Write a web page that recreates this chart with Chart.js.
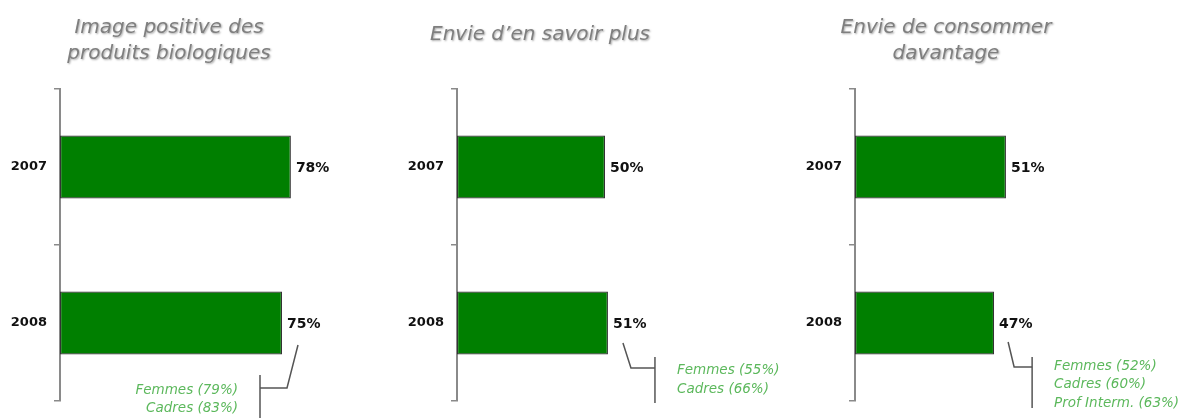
<!DOCTYPE html>
<html>
<head>
<meta charset="utf-8">
<script src="https://cdn.jsdelivr.net/npm/chart.js@4.4.0/dist/chart.umd.min.js"></script>
<style>
  html, body { margin: 0; padding: 0; background: #fff; }
  #wrap { position: relative; width: 1179px; height: 418px; }
  .panel { position: absolute; top: 0; width: 393px; height: 418px; }
</style>
</head>
<body>
<div id="wrap">
  <div class="panel" style="left:0"><canvas id="c1"></canvas></div>
  <div class="panel" style="left:393px"><canvas id="c2"></canvas></div>
  <div class="panel" style="left:786px"><canvas id="c3"></canvas></div>
</div>
<script>
// Data
const years = ['2007', '2008'];

const titleImage = ['Image positive des', 'produits biologiques'];
const titleSavoir = ['Envie d\u2019en savoir plus'];
const titleConsommer = ['Envie de consommer', 'davantage'];

const valuesImage = [78, 75];
const valuesSavoir = [50, 51];
const valuesConsommer = [51, 47];

const notesImage = ['Femmes (79%)', 'Cadres (83%)'];
const notesSavoir = ['Femmes (55%)', 'Cadres (66%)'];
const notesConsommer = ['Femmes (52%)', 'Cadres (60%)', 'Prof Interm. (63%)'];

// Styles
const BAR_GREEN = '#007f00';
const NOTE_GREEN = '#5cb85c';
const AXIS_GREY = '#8a8a8a';
const TITLE_GREY = '#7f7f7f';

// Per panel layout (local canvas coords). Callout offsets are relative to the 2008 bar end/center.
const panels = [
    {
        id: 'c1', title: titleImage, values: valuesImage, notes: notesImage,
        axisX: 60, titleX: 169, titleY: [28, 54],
        callout: { d1: [16, 22], d2: [5, 65], vx: -22, vy: [52, 97] },
        noteX: -44, noteY: [67, 85], noteAlign: 'right'
    },
    {
        id: 'c2', title: titleSavoir, values: valuesSavoir, notes: notesSavoir,
        axisX: 64, titleX: 147, titleY: [35],
        callout: { d1: [15, 20], d2: [23, 45], vx: 47, vy: [34, 80] },
        noteX: 69, noteY: [47, 66], noteAlign: 'left'
    },
    {
        id: 'c3', title: titleConsommer, values: valuesConsommer, notes: notesConsommer,
        axisX: 69, titleX: 160, titleY: [28, 54],
        callout: { d1: [14, 19], d2: [20, 44], vx: 38, vy: [34, 85] },
        noteX: 60, noteY: [43, 61, 80], noteAlign: 'left'
    }
];

// Plugin: title, value labels, callout + notes
const decorPlugin = {
    id: 'decor',
    afterDatasetsDraw(chart) {
        const p = chart.options.plugins.decor.panel;
        const ctx = chart.ctx;

        // title
        ctx.save();
        ctx.font = 'italic 20px "DejaVu Sans", Arial, sans-serif';
        ctx.fillStyle = TITLE_GREY;
        ctx.textAlign = 'center';
        ctx.textBaseline = 'middle';
        ctx.shadowColor = 'rgba(0,0,0,0.35)';
        ctx.shadowOffsetX = 1;
        ctx.shadowOffsetY = 1;
        ctx.shadowBlur = 2;
        p.title.forEach((line, i) => ctx.fillText(line, p.titleX, p.titleY[i]));
        ctx.restore();

        // value labels
        const meta = chart.getDatasetMeta(0);
        ctx.save();
        ctx.font = 'bold 14px "DejaVu Sans", Arial, sans-serif';
        ctx.fillStyle = '#111';
        ctx.textAlign = 'left';
        ctx.textBaseline = 'middle';
        meta.data.forEach((bar, i) => {
            ctx.fillText(p.values[i] + '%', bar.x + 5, bar.y + 1);
        });
        ctx.restore();

        // callout from the 2008 bar
        const last = meta.data[meta.data.length - 1];
        const bx = last.x, by = last.y;
        const c = p.callout;
        ctx.save();
        ctx.strokeStyle = '#555';
        ctx.lineWidth = 1.5;
        ctx.beginPath();
        ctx.moveTo(bx + c.d1[0], by + c.d1[1]);
        ctx.lineTo(bx + c.d2[0], by + c.d2[1]);
        ctx.lineTo(bx + c.vx, by + c.d2[1]);
        ctx.stroke();
        ctx.beginPath();
        ctx.moveTo(bx + c.vx, by + c.vy[0]);
        ctx.lineTo(bx + c.vx, by + c.vy[1]);
        ctx.stroke();

        ctx.font = 'italic 13.5px "DejaVu Sans", Arial, sans-serif';
        ctx.fillStyle = NOTE_GREEN;
        ctx.textAlign = p.noteAlign;
        ctx.textBaseline = 'middle';
        p.notes.forEach((n, i) => ctx.fillText(n, bx + p.noteX, by + p.noteY[i]));
        ctx.restore();
    }
};

panels.forEach(p => {
    new Chart(document.getElementById(p.id), {
        type: 'bar',
        data: {
            labels: years,
            datasets: [{
                data: p.values,
                backgroundColor: BAR_GREEN,
                borderColor: '#333333',
                borderWidth: 1.2,
                borderSkipped: false,
                barPercentage: 0.404,
                categoryPercentage: 1
            }]
        },
        options: {
            indexAxis: 'y',
            responsive: true,
            maintainAspectRatio: false,
            animation: false,
            events: [],
            layout: {
                padding: { left: 0, right: 393 - (p.axisX + 296), top: 89, bottom: 17 }
            },
            plugins: {
                legend: { display: false },
                tooltip: { enabled: false },
                decor: { panel: p }
            },
            scales: {
                x: { display: false, min: 0, max: 100 },
                y: {
                    afterFit: s => { s.width = p.axisX; },
                    border: { display: true, color: AXIS_GREY, width: 2 },
                    grid: {
                        drawOnChartArea: false,
                        drawTicks: true,
                        tickLength: 6,
                        color: AXIS_GREY,
                        lineWidth: 1.5,
                        offset: true
                    },
                    ticks: {
                        color: '#111',
                        padding: 7,
                        font: { family: '"DejaVu Sans", Arial, sans-serif', size: 13, weight: 'bold' }
                    }
                }
            }
        },
        plugins: [decorPlugin]
    });
});
</script>
</body>
</html>
